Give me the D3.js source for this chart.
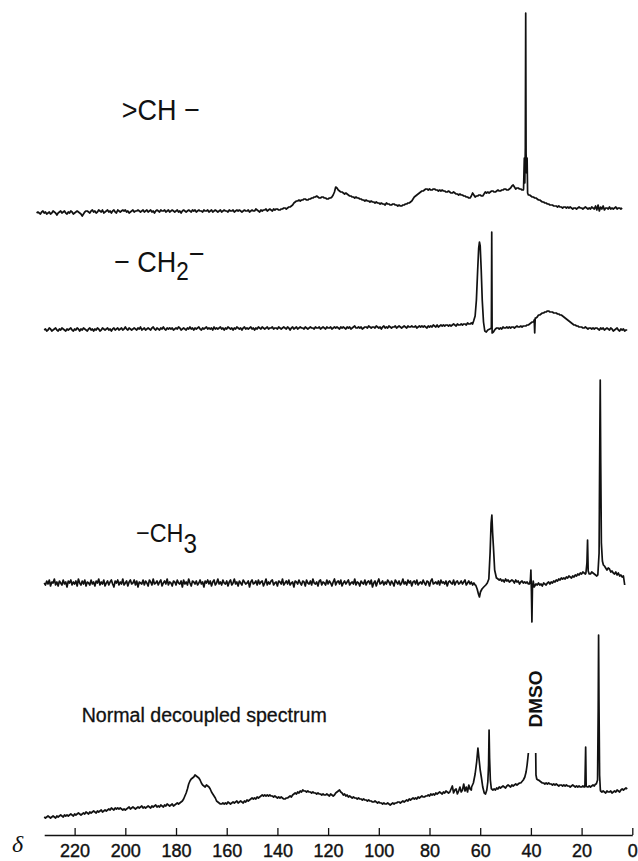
<!DOCTYPE html>
<html>
<head>
<meta charset="utf-8">
<script src="https://cdn.jsdelivr.net/npm/d3@7"></script>
<style>
  body { margin: 0; background: #fff; }
  svg { display: block; }
  text { font-family: "Liberation Sans", Arial, sans-serif; fill: #111; }
</style>
</head>
<body>
<svg id="chart" width="638" height="861"></svg>
<script>
// chemical shift ticks (ppm)
const tickValues = [220, 200, 180, 160, 140, 120, 100, 80, 60, 40, 20, 0];

// each trace: read every 0.5 ppm from the start value downwards,
// sharp peaks kept separately as [ppm, intensity] pairs
const step = 0.5;

const chStart = 235;
const chValues = [
  0,1,0,-1,1,2,0,1,-1,0,  1,-1,0,2,1,0,-2,0,1,2,
  0,1,2,0,-1,1,0,2,1,-1,  0,1,2,1,0,-1,-3,-1,1,2,
  2,1,0,2,3,1,2,0,1,3,  2,1,3,0,1,2,3,1,2,0,
  2,3,1,0,3,2,1,2,3,2,  3,1,2,0,1,2,3,1,2,2,
  3,2,1,2,3,1,2,3,1,2,  3,1,2,0,2,3,2,1,3,2,
  2,3,1,2,3,1,2,3,2,1,  2,3,1,2,0,2,3,2,1,2,
  3,2,1,3,2,3,1,2,3,2,  2,1,3,2,2,3,1,2,3,1,
  2,3,2,1,2,3,1,2,3,2,  2,1,3,2,2,3,1,2,3,2,
  3,2,1,2,3,2,2,3,1,2,  3,2,2,4,3,2,1,3,2,3,
  3,4,2,3,4,3,2,4,3,4,  4,3,3,4,4,5,5,4,5,6,
  6,7,8,10,11,12,12,13,12,13,  13,14,14,13,13,14,14,15,15,16,
  16,17,16,15,15,16,16,15,15,14,  14,15,15,16,18,21,26,25,23,22,
  21,21,20,19,20,19,18,17,17,16,  16,15,16,15,15,14,14,13,13,12,
  13,12,12,11,12,11,11,10,11,10,  10,9,10,9,9,8,10,9,9,8,
  8,9,9,8,8,7,8,7,7,8,  8,9,9,10,10,11,12,14,16,17,
  18,19,20,21,22,22,23,24,24,23,  24,23,23,24,24,23,23,22,23,22,
  23,22,22,21,21,22,21,20,20,21,  20,19,19,18,19,18,18,17,17,16,
  16,15,15,17,20,18,16,17,17,18,  18,17,17,19,21,20,21,20,21,22,
  22,21,21,22,23,22,22,23,23,24,  24,23,23,24,25,27,28,26,24,25,
  25,24,24,23,23,24,24,20,18,18,  17,16,16,15,15,14,13,13,12,11,
  11,10,10,9,9,8,8,8,7,7,  7,6,7,6,6,5,6,6,5,6,
  5,6,5,4,5,5,4,5,6,5,  5,4,5,6,5,4,5,4,6,5,
  4,7,3,8,2,6,4,7,3,5,  5,4,6,4,5,4,5,6,4,5,
  5,4,5
];
const chPeaks = [
  [[42.9,24],[42.6,55],[42.4,30],[42.2,66],[42.05,200],[41.9,60],[41.7,40],[41.5,55],[41.3,20]]
];

const ch2Start = 232;
const ch2Values = [
  0,1,-1,0,2,1,-1,0,1,2,  0,-1,1,0,2,1,0,-1,1,0,
  1,2,0,-1,1,0,2,1,-1,1,  0,2,1,0,-1,1,2,0,1,-1,
  1,0,2,1,-1,0,2,1,0,1,  2,0,1,-1,1,2,0,1,2,0,
  1,2,0,1,3,1,0,2,1,0,  1,2,1,0,2,1,3,0,1,2,
  0,1,2,1,0,2,3,1,0,2,  1,0,2,1,3,1,0,2,1,2,
  1,2,0,1,2,1,3,2,0,1,  2,1,0,2,1,3,1,2,0,2,
  1,2,3,1,0,2,1,2,3,1,  2,1,2,0,3,1,2,1,2,3,
  1,2,0,2,1,3,2,1,2,0,  2,1,3,2,1,2,0,2,3,1,
  2,1,2,3,1,2,0,2,1,3,  2,1,3,2,1,2,3,1,2,2,
  3,1,2,2,1,3,2,1,2,3,  2,1,3,2,0,2,3,1,2,3,
  1,2,3,2,2,1,3,2,1,2,  3,2,2,1,3,2,2,3,1,2,
  3,2,1,3,2,2,3,1,2,3,  2,3,2,1,3,2,3,2,1,3,
  2,3,1,2,3,4,2,2,3,2,  3,1,2,3,3,2,4,3,2,3,
  3,2,4,3,2,3,1,3,4,2,  3,2,4,3,2,3,3,4,2,3,
  4,3,2,3,4,3,2,4,3,3,  4,3,3,4,2,3,4,3,4,3,
  4,3,2,4,3,4,3,5,4,3,  5,3,4,5,4,5,4,5,5,4,
  5,4,5,6,5,4,6,5,5,6,  5,6,6,5,7,6,6,7,6,8,
  0,0,0,0,0,0,0,0,0,0,  0,0,0,0,0,0,1,2,2,1,
  2,1,3,2,2,3,2,3,2,3,  3,2,3,4,3,3,4,3,4,4,
  4,5,5,6,7,8,8,10,12,13,  15,15,16,17,17,18,18,19,19,18,
  18,18,17,17,17,16,16,15,15,14,  13,12,11,10,9,8,7,6,5,5,
  4,4,3,3,3,2,2,3,2,1,  2,2,1,2,1,2,2,1,0,2,
  1,2,0,1,2,1,0,2,1,-1,  0,1,2,0,-1,1,0,1,-1,0,
  0
];
const ch2Peaks = [
  [[62.6,9],[62.0,14],[61.5,30],[61.0,60],[60.6,82],[60.3,88],[60.0,84],[59.6,60],[59.2,30],[58.7,8],
   [58.2,-1],[57.6,-2],[57.0,0],[56.2,1],[55.6,2],[55.45,98],[55.3,-3],[54.8,-2],[54.3,0]],
  [[38.7,10],[38.5,-3],[38.3,12]]
];

const ch3Start = 232;
const ch3Values = [
  0,-2,2,-1,3,-3,1,0,4,-2,  1,-3,2,0,-2,3,-1,1,-4,2,
  0,3,-2,1,-1,2,-3,4,0,-2,  2,-1,3,-3,1,0,-2,3,-1,1,
  -3,2,0,4,-2,1,-1,3,-3,0,  2,-2,1,3,-1,-4,2,0,3,-2,
  1,-1,4,-2,0,2,-3,1,3,-1,  0,3,-2,2,-4,1,0,-1,3,-2,
  2,0,-3,3,1,-2,4,-1,0,2,  -2,1,3,-3,0,2,-1,4,-2,1,
  0,-3,2,1,-2,3,0,-1,2,-4,  3,-1,1,-2,4,0,-3,2,1,-1,
  2,-2,0,3,-1,1,-4,2,0,3,  -1,2,-3,1,3,-2,0,4,-1,1,
  -2,3,0,-1,2,-3,1,3,-2,0,  4,-1,1,-3,2,0,-2,3,1,-1,
  0,2,-4,1,3,-1,0,2,-2,3,  -1,1,2,-3,0,4,-2,1,-1,2,
  3,-2,0,1,-3,2,1,-1,4,-2,  0,2,-1,3,-2,0,1,-4,2,1,
  -1,3,0,-2,2,1,-3,3,0,-1,  2,-2,4,0,-1,1,-3,2,3,-2,
  1,0,-2,3,-1,2,0,-3,1,4,  -2,1,2,-1,3,-3,0,2,-1,1,
  3,-2,0,1,-1,4,-2,1,0,-3,  2,0,-1,3,-2,1,2,-1,3,-4,
  0,2,-3,1,4,-1,0,2,-2,1,  -1,3,1,-2,2,0,-3,3,1,-1,
  2,-2,0,4,-1,1,-2,3,0,2,  -3,1,2,-1,3,-2,0,1,-1,3,
  0,-2,2,1,-3,2,4,-1,0,1,  -1,2,-2,3,0,1,-1,2,-3,1,
  2,0,-1,3,-2,1,2,-1,0,2,  -1,1,3,-2,0,2,-1,1,-2,0,
  -2,0,0,0,0,0,0,0,0,-1,  0,0,0,0,0,0,0,5,4,3,
  4,2,3,1,4,2,3,1,2,3,  2,0,3,1,2,-1,1,2,0,1,
  0,1,-1,0,0,0,0,-3,-1,-2,  0,-2,-1,-3,0,-1,-2,0,1,-1,
  1,0,2,1,3,2,4,3,5,4,  5,4,6,5,7,6,5,7,6,8,
  7,9,8,10,9,11,10,9,0,0,  0,9,11,10,9,8,7,0,0,0,
  0,0,17,15,13,15,14,11,12,10,
  9,11,8,10,7,8,6,7,-2
];
const ch3Peaks = [
  [[61.8,-2],[61.2,-6],[60.7,-11],[60.3,-14],[59.9,-9],[59.3,-6],[58.6,-4],[57.8,-2]],
  [[57.2,0],[56.6,4],[56.1,30],[55.7,60],[55.4,68],[55.1,50],[54.8,37],[54.3,13],[53.6,5]],
  [[40.6,-1],[40.2,3],[40.0,13],[39.8,-8],[39.6,-39],[39.4,-6],[39.1,2],[38.7,-4]],
  [[18.3,10],[17.9,20],[17.65,43],[17.4,12],[17.0,9]],
  [[13.6,8],[13.1,30],[12.8,150],[12.65,203],[12.45,120],[12.2,40],[11.8,22],[11.4,18]]
];

const normStart = 232;
const normValues = [
  3,2,3,4,3,2,3,4,3,2,  4,3,4,5,4,3,5,4,5,4,
  5,6,5,4,6,5,6,7,6,5,  6,7,6,8,7,6,8,7,8,9,
  8,7,9,8,9,10,8,9,10,9,  10,11,10,12,11,10,12,11,12,11,
  12,11,10,11,10,11,12,13,11,12,  13,12,11,12,13,12,13,14,12,13,
  12,13,14,13,12,14,13,14,15,13,  14,13,15,14,13,15,14,16,15,14,
  15,16,14,15,16,17,16,17,18,19,  21,24,27,31,36,39,41,42,43,45,
  44,43,42,40,37,35,34,33,35,34,  33,31,28,26,24,22,19,18,17,16,
  16,17,16,17,16,18,17,16,17,18,  17,18,19,17,18,19,18,17,19,18,
  20,19,20,21,22,21,22,21,23,22,  23,24,25,24,25,24,25,24,25,24,
  24,23,24,23,22,23,22,23,22,21,  21,22,22,23,24,23,25,26,27,26,
  28,27,29,28,30,29,29,28,29,28,  28,27,28,27,27,26,27,26,26,25,
  26,25,25,26,25,24,26,25,24,25,  27,28,29,30,28,27,25,26,24,25,
  23,24,23,22,23,22,22,21,22,21,  21,20,21,20,20,19,20,19,19,18,
  18,19,18,17,18,17,17,16,17,16,  16,17,16,15,16,17,16,17,17,18,
  18,17,18,19,18,19,20,19,21,20,  21,22,21,22,21,23,22,23,24,23,
  23,24,24,25,24,26,25,26,25,27,  26,27,28,27,26,28,27,29,28,27,
  28,31,34,27,30,31,26,29,33,28,  30,36,29,33,28,35,31,30,33,35,
  0,0,0,0,0,0,0,0,0,0,  0,0,0,31,30,31,30,32,31,33,
  32,33,34,33,32,34,35,34,33,35,  34,35,36,35,36,37,0,0,0,0,
  0,0,0,0,0,0,0,0,0,0,  40,39,38,37,37,36,37,36,37,36,
  36,35,36,35,36,35,34,35,35,34,  35,34,35,34,34,33,34,35,34,33,
  34,33,34,33,33,34,33,0,0,33,  34,33,34,35,34,36,0,0,0,29,
  28,29,28,27,29,28,28,29,27,28,  29,28,30,29,28,30,31,30,31,32,
  31
];
const normPeaks = [
  [[63.4,33],[62.7,37],[62.0,46],[61.4,58],[60.9,72],[60.5,62],[60.0,50],[59.5,42],[59.0,33],[58.4,27],
   [57.9,26],[57.4,30],[57.0,38],[56.7,55],[56.5,90],[56.3,62],[56.0,40],[55.6,31]],
  [[44.0,37],[43.0,40],[42.4,43],[41.9,48],[41.5,55],[41.2,62],[41.0,67],[39.5,null],[38.1,67],[38.0,45],[37.7,41],[37.2,40]],
  [[18.7,33],[18.4,73],[18.2,34],[17.8,33]],
  [[14.2,36],[13.7,40],[13.45,110],[13.3,185],[13.15,120],[12.9,45],[12.6,30]]
];

const svg = d3.select('#chart');
svg.append('rect').attr('width', 638).attr('height', 861).attr('fill', '#fff');

const x = d3.scaleLinear().domain([232, 0]).range([44.2, 632.3]);

function buildTrace(start, values, peaks) {
  let pts = values.map((v, i) => [start - i * step, v]);
  peaks.forEach(p => {
    let ppm = p.map(d => d[0]);
    let hi = d3.max(ppm), lo = d3.min(ppm);
    pts = pts.filter(d => d[0] > hi || d[0] < lo).concat(p);
  });
  pts.sort((a, b) => b[0] - a[0]);
  return pts;
}

// one strip per spectrum, 1 intensity unit = 1px
const panels = [
  { start: chStart, values: chValues, peaks: chPeaks, zero: 213 },
  { start: ch2Start, values: ch2Values, peaks: ch2Peaks, zero: 330 },
  { start: ch3Start, values: ch3Values, peaks: ch3Peaks, zero: 583 },
  { start: normStart, values: normValues, peaks: normPeaks, zero: 820 }
];

panels.forEach(p => {
  let y = d3.scaleLinear().domain([0, 100]).range([p.zero, p.zero - 100]);
  let line = d3.line()
    .defined(d => d[1] != null)
    .x(d => x(d[0]))
    .y(d => y(d[1]));
  svg.append('path')
    .datum(buildTrace(p.start, p.values, p.peaks))
    .attr('d', line)
    .attr('fill', 'none')
    .attr('stroke', '#111')
    .attr('stroke-width', 1.7)
    .attr('stroke-linejoin', 'round');
});

// axis
let axis = svg.append('g')
  .attr('transform', 'translate(0,835)')
  .call(d3.axisBottom(x).tickValues(tickValues).tickSize(-7).tickSizeOuter(0).tickPadding(9));
axis.select('.domain').attr('stroke', '#111').attr('stroke-width', 1.6);
axis.selectAll('.tick line').attr('stroke', '#111').attr('stroke-width', 1.3);
axis.selectAll('.tick text')
  .attr('font-size', 18)
  .attr('font-family', '"Liberation Sans", Arial, sans-serif')
  .attr('fill', '#111')
  .style('stroke', '#111').style('stroke-width', 0.4);

svg.append('text')
  .attr('x', 12).attr('y', 852)
  .style('font-family', '"Liberation Serif", serif')
  .style('font-style', 'italic')
  .attr('font-size', 24)
  .text('δ');

// labels
svg.append('text')
  .attr('transform', 'translate(121.7,120) scale(0.9,1)')
  .attr('font-size', 30)
  .text('>CH −');

let l2 = svg.append('text')
  .attr('transform', 'translate(114,272) scale(0.9,1)')
  .attr('font-size', 30);
l2.append('tspan').text('− CH');
l2.append('tspan').attr('font-size', 25).attr('dy', 8).text('2');
l2.append('tspan').attr('dy', -16).text('−');

let l3 = svg.append('text')
  .attr('transform', 'translate(136,541.7) scale(0.9,1)')
  .attr('font-size', 26);
l3.append('tspan').text('−CH');
l3.append('tspan').attr('font-size', 27).attr('dy', 11).text('3');

svg.append('text')
  .attr('x', 81.7).attr('y', 721.7)
  .attr('font-size', 19.6)
  .style('stroke', '#111').style('stroke-width', 0.3)
  .text('Normal decoupled spectrum');

svg.append('text')
  .attr('transform', 'translate(541.7,699) rotate(-90)')
  .attr('text-anchor', 'middle')
  .attr('font-size', 19)
  .attr('font-weight', 'bold')
  .text('DMSO');
</script>
</body>
</html>
